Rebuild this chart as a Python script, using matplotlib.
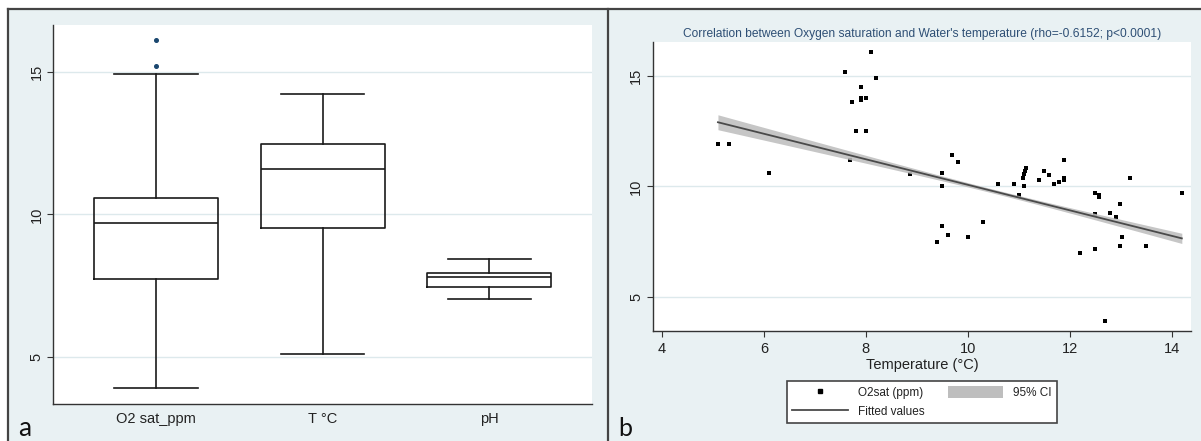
import numpy as np
import matplotlib
matplotlib.use("Agg")
import matplotlib.pyplot as plt
from matplotlib.lines import Line2D
from matplotlib.patches import Rectangle, Patch

# ---------------- data: panel a (box plot summaries) ----------------
box_labels = ["O2 sat_ppm", "T °C", "pH"]
box_whislo = [3.90, 5.09, 7.03]
box_q1 = [7.73, 9.53, 7.45]
box_med = [9.71, 11.60, 7.79]
box_q3 = [10.58, 12.47, 7.93]
box_whishi = [14.91, 14.22, 8.42]
box_fliers = [[16.10, 15.20], [], []]

# ---------------- data: panel b (scatter) ----------------
temp_c = [5.10, 5.31, 6.11, 7.585, 8.10, 8.20, 7.905, 7.72, 7.905, 7.905,
          8.00, 7.80, 8.00, 7.69, 8.87, 9.70, 9.80, 9.49, 9.49, 9.49,
          9.40, 9.61, 10.00, 10.30, 10.59, 10.90, 11.01, 11.10, 11.09, 11.11,
          11.13, 11.15, 11.40, 11.50, 11.59, 11.69, 11.80, 11.89, 11.89, 11.89,
          12.20, 12.50, 12.50, 12.58, 12.58, 12.50, 12.69, 12.79, 12.90, 12.99,
          13.02, 12.99, 13.19, 13.49, 14.20]
o2sat_ppm = [11.90, 11.90, 10.61, 15.19, 16.09, 14.89, 14.50, 13.80, 14.00, 13.90,
             14.00, 12.51, 12.51, 11.18, 10.55, 11.40, 11.10, 10.61, 10.00, 8.19,
             7.50, 7.80, 7.71, 8.40, 10.11, 10.11, 9.62, 10.00, 10.40, 10.55,
             10.70, 10.85, 10.29, 10.70, 10.50, 10.11, 10.18, 11.19, 10.38, 10.29,
             6.99, 7.19, 9.70, 9.62, 9.52, 8.75, 3.89, 8.80, 8.60, 9.20,
             7.71, 7.29, 10.39, 7.29, 9.70]

# fitted regression (as shown in the figure) and its 95% CI shape
fit_intercept = 15.847
fit_slope = -0.5772
ci_center_x = 10.6      # x where the CI is narrowest (mean temperature)
ci_half_min = 0.09      # CI half-width at the centre
ci_spread = 0.0035      # growth of the squared half-width per squared unit of x

title_b = "Correlation between Oxygen saturation and Water's temperature (rho=-0.6152; p<0.0001)"

# ---------------- styling ----------------
W, H = 1201, 441
BG = "#e9f1f3"
GRID = "#dde9ec"
AXC = "#333333"
NAVY = "#1a476f"
FONT = ["Liberation Sans", "DejaVu Sans"]
plt.rcParams["font.family"] = FONT

fig = plt.figure(figsize=(W / 100, H / 100), dpi=100, facecolor="white")

def fx(px):
    return px / W

def fy(py):
    return 1 - py / H

# graph region backgrounds and borders
fig.patches.append(Rectangle((fx(8), 0), fx(600), fy(9), transform=fig.transFigure,
                             facecolor=BG, edgecolor="none", zorder=-10))
fig.patches.append(Rectangle((fx(608), 0), fx(W - 608), fy(9), transform=fig.transFigure,
                             facecolor=BG, edgecolor="none", zorder=-10))
for xs_, ys_ in [([fx(8), 1], [fy(9), fy(9)]),
                 ([fx(8), fx(8)], [0, fy(9)]),
                 ([fx(608), fx(608)], [0, fy(9)])]:
    fig.lines.append(Line2D(xs_, ys_, transform=fig.transFigure, color="#444444",
                            lw=1.6, zorder=-5))

# ---------------- panel a ----------------
axa = fig.add_axes([fx(53.3), fy(403.7), fx(592 - 53.3), (403.7 - 25) / H])
axa.set_zorder(5)
axa.set_facecolor("white")
stats = []
for i in range(len(box_labels)):
    stats.append(dict(med=box_med[i], q1=box_q1[i], q3=box_q3[i],
                      whislo=box_whislo[i], whishi=box_whishi[i],
                      fliers=box_fliers[i], label=box_labels[i]))
lp = dict(color="#1a1a1a", lw=1.2)
axa.bxp(stats, positions=[1, 2, 3], widths=0.744, capwidths=0.5,
        boxprops=lp, whiskerprops=lp, capprops=lp, medianprops=lp,
        flierprops=dict(marker="o", markersize=2.6, markerfacecolor=NAVY,
                        markeredgecolor=NAVY, linestyle="none"))
axa.set_xlim(0.384, 3.616)
axa.set_ylim(3.36, 16.64)
axa.set_yticks([5, 10, 15])
axa.grid(axis="y", color=GRID, lw=1.0, zorder=0)
axa.set_axisbelow(True)
for s in ["top", "right"]:
    axa.spines[s].set_visible(False)
for s in ["left", "bottom"]:
    axa.spines[s].set_color(AXC)
    axa.spines[s].set_linewidth(1.0)
axa.tick_params(axis="y", length=4, width=0.8, color=AXC, pad=3, labelsize=10.5,
                labelcolor="#222222")
axa.tick_params(axis="x", length=0, pad=6, labelsize=10.5, labelcolor="#222222")
for lab in axa.get_yticklabels():
    lab.set_rotation(90)
    lab.set_va("center")

fig.text(fx(25), fy(429), "a", ha="center", va="center", fontsize=19,
         family=["Lato", "DejaVu Sans"], color="#111111", zorder=6)

# ---------------- panel b ----------------
axb = fig.add_axes([fx(652.7), fy(331), fx(1191 - 652.7), (331 - 42.3) / H])
axb.set_zorder(5)
axb.set_facecolor("white")
x = np.asarray(temp_c)
y = np.asarray(o2sat_ppm)
xs = np.linspace(x.min(), x.max(), 200)
fit = fit_intercept + fit_slope * xs
half = np.sqrt(ci_half_min ** 2 + ci_spread * (xs - ci_center_x) ** 2)

axb.scatter(x, y, s=7.5, marker="s", color="black", linewidths=0, zorder=2)
axb.fill_between(xs, fit - half, fit + half, color="#bebebe", alpha=0.88,
                 linewidth=0, zorder=3)
axb.plot(xs, fit, color="#4a4a4a", lw=1.3, zorder=4)

axb.set_xlim(3.82, 14.38)
axb.set_ylim(3.46, 16.52)
axb.set_xticks([4, 6, 8, 10, 12, 14])
axb.set_yticks([5, 10, 15])
axb.grid(axis="y", color=GRID, lw=1.0, zorder=0)
axb.set_axisbelow(True)
for s in ["top", "right"]:
    axb.spines[s].set_visible(False)
for s in ["left", "bottom"]:
    axb.spines[s].set_color(AXC)
    axb.spines[s].set_linewidth(1.0)
axb.tick_params(axis="both", length=4, width=0.8, color=AXC, labelsize=10.5,
                labelcolor="#222222")
axb.tick_params(axis="y", pad=3)
axb.tick_params(axis="x", pad=4)
for lab in axb.get_yticklabels():
    lab.set_rotation(90)
    lab.set_va("center")
axb.set_xlabel("Temperature (°C)", fontsize=10.5, labelpad=1.5, color="#222222")
axb.set_title(title_b, fontsize=8.65, color="#2e4f75", pad=3.5)

h_pts = Line2D([], [], marker="s", markersize=2.6, color="black", linestyle="none")
h_line = Line2D([], [], color="#4a4a4a", lw=1.3)
h_band = Patch(facecolor="#bebebe", edgecolor="none")
leg = axb.legend([h_pts, h_line, h_band], ["O2sat (ppm)", "Fitted values", "95% CI"],
                 ncol=2, loc="upper center", bbox_to_anchor=(fx(922), fy(381)),
                 bbox_transform=fig.transFigure, fontsize=8.5, frameon=True,
                 fancybox=False, framealpha=1, edgecolor="#444444",
                 handlelength=4.7, handleheight=1.2, handletextpad=0.85,
                 columnspacing=2.0, labelspacing=0.55, borderpad=0.4,
                 borderaxespad=0)
leg.get_frame().set_linewidth(1.2)
for t in leg.get_texts():
    t.set_color("#222222")

fig.text(fx(625.5), fy(429), "b", ha="center", va="center", fontsize=18,
         family=["Lato", "DejaVu Sans"], color="#111111", zorder=6)

fig.savefig("out.png", dpi=100, facecolor="white")
